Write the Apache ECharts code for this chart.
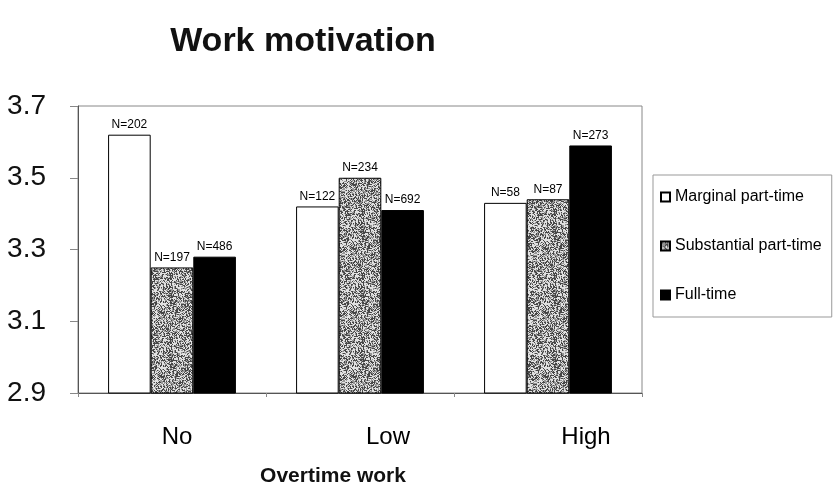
<!DOCTYPE html>
<html>
<head>
<meta charset="utf-8">
<script src="https://cdn.jsdelivr.net/npm/echarts@6/dist/echarts.min.js"></script>
<style>
  html, body { margin: 0; padding: 0; background: #fff; }
  #chart { width: 833px; height: 496px; }
</style>
</head>
<body>
<div id="chart"></div>
<script>
// data
var categories = ['No', 'Low', 'High'];
var seriesNames = ['Marginal part-time', 'Substantial part-time', 'Full-time'];
var marginal = [3.62, 3.42, 3.43];
var substantial = [3.25, 3.50, 3.44];
var fullTime = [3.28, 3.41, 3.59];
var nMarginal = [202, 122, 58];
var nSubstantial = [197, 234, 87];
var nFullTime = [486, 692, 273];
var yTicks = [2.9, 3.1, 3.3, 3.5, 3.7];

// grey speckle texture for the "substantial" bars
function makeSpeckle () {
  var c = document.createElement('canvas');
  c.width = 64;
  c.height = 64;
  var ctx = c.getContext('2d');
  var img = ctx.createImageData(64, 64);
  var seed = 98765;
  for (var i = 0; i < 64 * 64; i++) {
    seed = (seed * 1103515245 + 12345) & 0x7fffffff;
    var r = (seed >> 8) % 100;
    var v = r < 35 ? 70 : (r < 60 ? 150 : 225);
    img.data[i * 4] = v;
    img.data[i * 4 + 1] = v;
    img.data[i * 4 + 2] = v;
    img.data[i * 4 + 3] = 255;
  }
  ctx.putImageData(img, 0, 0);
  return c;
}

var chart = echarts.init(document.getElementById('chart'));

function barSeries (name, values, counts, color) {
  return {
    name: name,
    type: 'bar',
    barGap: '0%',
    barCategoryGap: '32%',
    data: values,
    itemStyle: { color: color, borderColor: '#000', borderWidth: 1 },
    label: {
      show: true,
      position: 'top',
      distance: 4,
      fontFamily: 'Liberation Sans',
      fontSize: 12,
      color: '#000',
      formatter: function (p) { return 'N=' + counts[p.dataIndex]; }
    }
  };
}

var labelShift = { No: 10, Low: 56, High: 76 };

var option = {
  backgroundColor: '#fff',
  animation: false,
  title: {
    text: 'Work motivation',
    left: 298,
    textAlign: 'center',
    top: 20,
    textStyle: { fontFamily: 'Liberation Sans', fontWeight: 'bold', fontSize: 34, color: '#111' }
  },
  legend: {
    orient: 'vertical',
    left: 653,
    top: 175,
    itemWidth: 9,
    itemHeight: 9,
    itemGap: 33,
    padding: [14, 10, 14, 7],
    borderColor: '#999',
    borderWidth: 1,
    icon: 'rect',
    textStyle: { fontFamily: 'Liberation Sans', fontSize: 16, color: '#000' },
    data: seriesNames
  },
  grid: { left: 78, right: 191, top: 106, bottom: 103, show: true, borderColor: '#888', borderWidth: 1 },
  xAxis: {
    type: 'category',
    data: categories,
    name: 'Overtime work',
    nameLocation: 'middle',
    nameGap: 73,
    nameTextStyle: { fontFamily: 'Liberation Sans', fontWeight: 'bold', fontSize: 21, color: '#111', padding: [0, 54, 0, 0] },
    axisLine: { lineStyle: { color: '#555' } },
    axisTick: { show: true, length: 4, lineStyle: { color: '#888' } },
    axisLabel: {
      margin: 32,
      formatter: function (v) { return '{' + v + '|' + v + '}'; },
      rich: {
        No: { fontFamily: 'Liberation Sans', fontSize: 24, color: '#000', padding: [0, 0, 0, labelShift.No] },
        Low: { fontFamily: 'Liberation Sans', fontSize: 24, color: '#000', padding: [0, 0, 0, labelShift.Low] },
        High: { fontFamily: 'Liberation Sans', fontSize: 24, color: '#000', padding: [0, 0, 0, labelShift.High] }
      }
    }
  },
  yAxis: {
    type: 'value',
    min: yTicks[0],
    max: yTicks[yTicks.length - 1],
    interval: 0.2,
    axisLine: { show: true, lineStyle: { color: '#555' } },
    axisTick: { show: true, length: 8, lineStyle: { color: '#888' } },
    splitLine: { show: false },
    axisLabel: {
      margin: 32,
      fontFamily: 'Liberation Sans',
      fontSize: 28,
      color: '#111',
      formatter: function (v) { return v.toFixed(1); }
    }
  },
  series: [
    barSeries(seriesNames[0], marginal, nMarginal, '#fff'),
    barSeries(seriesNames[1], substantial, nSubstantial, { image: makeSpeckle(), repeat: 'repeat' }),
    barSeries(seriesNames[2], fullTime, nFullTime, '#000')
  ]
};

chart.setOption(option);
</script>
</body>
</html>
